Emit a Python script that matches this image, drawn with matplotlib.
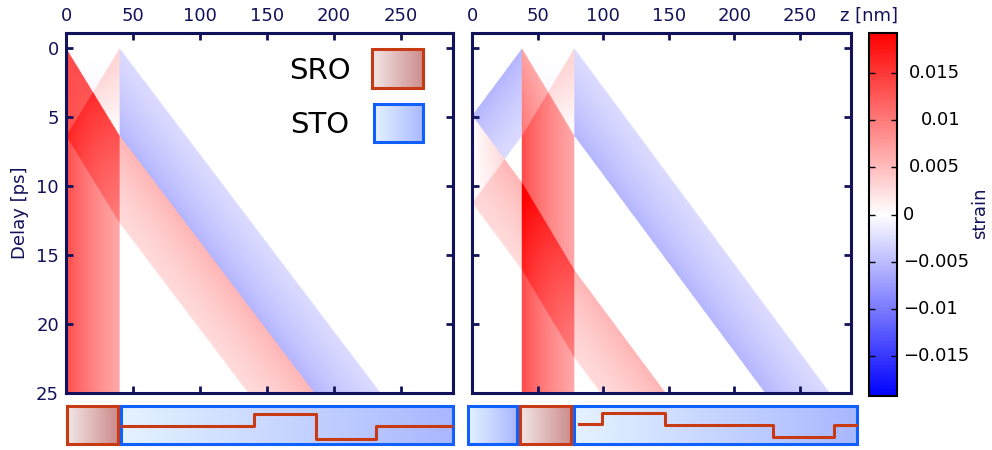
import numpy as np
import matplotlib
matplotlib.use("Agg")
import matplotlib.pyplot as plt
from matplotlib.colors import LinearSegmentedColormap
from matplotlib.patches import Rectangle

# materials: sound velocity [nm/ps], density [g/cm^3]
materials = ["SRO", "STO"]
sound_vel = [6.3, 7.8]
density = [6.5, 5.12]

# sample a: SRO film on STO substrate, sample b: STO / SRO / STO substrate
layers_a = ["SRO", "STO"]
thick_a = [40, 249]
layers_b = ["STO", "SRO", "STO"]
thick_b = [38, 40, 211]

# photo-induced expansion in SRO (surface value) and optical depth [nm]
strain0 = 0.0135
absorb_depth = 55.0

# schematic step line drawn in the substrate box below each map
step_z_a = [42, 140, 186, 231, 287]
step_lev_a = [0.468, 0.776, 0.126, 0.453]
step_z_b = [83, 100, 146, 226, 271, 288]
step_lev_b = [0.505, 0.81, 0.487, 0.171, 0.487]

cbar_ticks = [-0.015, -0.01, -0.005, 0, 0.005, 0.01, 0.015]
cbar_labels = ["\u22120.015", "\u22120.01", "\u22120.005", "0", "0.005", "0.01", "0.015"]
x_ticks = [0, 50, 100, 150, 200, 250]
y_ticks = [0, 5, 10, 15, 20, 25]

VLIM = 0.0193
T_MIN, T_MAX = -1.1, 25
NAVY = "#12125a"
SRO_EDGE = "#c83a14"
STO_EDGE = "#1060ff"
SRO_FILL = ("#f3e6e6", "#cc8c8c")
STO_FILL = ("#e4f2ff", "#a9b8ff")
CMAP = LinearSegmentedColormap.from_list("bwr_w", ["#0000ff", "#ffffff", "#ff0000"], N=257)

vel = dict(zip(materials, sound_vel))
rho = dict(zip(materials, density))


def strain_map(names, thick, nz=700, nt=650):
    thick = np.array(thick, float)
    v = np.array([vel[m] for m in names])
    c = np.array([rho[m] * vel[m] ** 2 for m in names])
    edges = np.concatenate([[0], np.cumsum(thick)])
    tau_edges = np.concatenate([[0], np.cumsum(thick / v)])

    def layer_of(zz):
        return np.clip(np.searchsorted(edges, zz, side="right") - 1, 0, len(thick) - 1)

    def eta_th(zz):
        i = layer_of(zz)
        out = np.zeros_like(zz)
        for k, name in enumerate(names):
            if name == "SRO":
                m = i == k
                out[m] = strain0 * np.exp(-(zz[m] - edges[k]) / absorb_depth)
        return out

    def sigma0(tau):
        zz = np.interp(np.abs(tau), tau_edges, edges)
        s = -c[layer_of(zz)] * eta_th(zz)
        s[np.abs(tau) > tau_edges[-1]] = 0
        return np.sign(tau) * s

    z = np.linspace(0, edges[-1], nz)
    t = np.linspace(T_MIN, T_MAX, nt)
    tau_z = np.interp(z, edges, tau_edges)
    TZ, T = np.meshgrid(tau_z, t)
    Z = np.broadcast_to(z, TZ.shape)
    sig = 0.5 * (sigma0((TZ - T).ravel()) + sigma0((TZ + T).ravel())).reshape(TZ.shape)
    eta = eta_th(Z.ravel()).reshape(TZ.shape) + sig / c[layer_of(Z)]
    eta[T < 0] = 0
    return eta, edges[-1]


def grad_box(ax, x0, x1, y0, y1, fill, edge, lw=2.2):
    cm = LinearSegmentedColormap.from_list("g", fill)
    ax.imshow(np.linspace(0, 1, 64)[None, :], cmap=cm, extent=(x0, x1, y0, y1),
              aspect="auto", zorder=3, interpolation="bilinear")
    ax.add_patch(Rectangle((x0, min(y0, y1)), x1 - x0, abs(y1 - y0), fill=False,
                           edgecolor=edge, lw=lw, zorder=4, clip_on=False))


def style_map(ax, ylabels):
    for s in ax.spines.values():
        s.set_color(NAVY)
        s.set_linewidth(2.2)
    ax.set_xticks(x_ticks)
    ax.set_yticks(y_ticks)
    ax.tick_params(direction="in", length=5, width=2, colors=NAVY, labelsize=13,
                   top=True, right=True, labeltop=True, labelbottom=False,
                   labelleft=ylabels)
    ax.tick_params(axis="x", pad=6)
    ax.tick_params(axis="y", pad=5)


def strip(rect, names, thick, zmax, step_z, step_lev):
    sa = fig.add_axes(rect)
    inset = 1.1
    x0 = 0
    for name, d in zip(names, thick):
        fill, edge = (SRO_FILL, SRO_EDGE) if name == "SRO" else (STO_FILL, STO_EDGE)
        grad_box(sa, x0 + inset, x0 + d - inset, 0, 1, fill, edge)
        x0 += d
    sa.step(step_z, step_lev + [step_lev[-1]], where="post", color=SRO_EDGE, lw=2.2, zorder=5)
    sa.set_xlim(0, zmax)
    sa.set_ylim(0, 1)
    sa.axis("off")


fig = plt.figure(figsize=(9.92, 4.5), dpi=100)
W, H = 992, 450


def px(x0, y0, x1, y1):
    return [x0 / W, 1 - y1 / H, (x1 - x0) / W, (y1 - y0) / H]


ax1 = fig.add_axes(px(66, 33, 453, 393))
ax2 = fig.add_axes(px(472, 33, 851, 393))
cax = fig.add_axes(px(869, 33, 897, 396))

eta_a, zmax_a = strain_map(layers_a, thick_a)
eta_b, zmax_b = strain_map(layers_b, thick_b)

im = ax1.imshow(eta_a, cmap=CMAP, vmin=-VLIM, vmax=VLIM, aspect="auto",
                extent=(0, zmax_a, T_MAX, T_MIN), origin="upper", zorder=1)
ax2.imshow(eta_b, cmap=CMAP, vmin=-VLIM, vmax=VLIM, aspect="auto",
           extent=(0, zmax_b, T_MAX, T_MIN), origin="upper", zorder=1)

for ax, zm, lab in [(ax1, zmax_a, True), (ax2, zmax_b, False)]:
    ax.set_xlim(0, zm)
    ax.set_ylim(T_MAX, T_MIN)
    style_map(ax, lab)

ax1.set_ylabel("Delay [ps]", color=NAVY, fontsize=13)
ax1.yaxis.set_label_coords(-0.096, 0.5)

# legend
grad_box(ax1, 228.7, 266.8, 2.86, 0.04, SRO_FILL, SRO_EDGE)
grad_box(ax1, 229.8, 266.8, 6.77, 4.02, STO_FILL, STO_EDGE)
ax1.text(189.6, 2.25, "SRO", fontsize=21, ha="center", va="baseline", color="black", zorder=5)
ax1.text(189.6, 6.16, "STO", fontsize=21, ha="center", va="baseline", color="black", zorder=5)
ax1.set_xlim(0, zmax_a)
ax1.set_ylim(T_MAX, T_MIN)

# colorbar
cb = fig.colorbar(im, cax=cax)
cb.outline.set_linewidth(1.5)
cb.outline.set_edgecolor("black")
cax.set_yticks(cbar_ticks)
cax.set_yticklabels([])
cax.tick_params(direction="in", left=True, right=True, length=4, width=1, color="black")
tr = cax.get_yaxis_transform()
for val, lab in zip(cbar_ticks, cbar_labels):
    if val > 0:
        cax.text(3.25, val, lab, transform=tr, ha="right", va="center", fontsize=13)
    else:
        cax.text(1.21, val, lab, transform=tr, ha="left", va="center", fontsize=13)

fig.text(980 / W, 1 - 213 / H, "strain", rotation=90, ha="center", va="center",
         color=NAVY, fontsize=13)
fig.text(869 / W, 1 - 16 / H, "z [nm]", ha="center", va="center", color=NAVY, fontsize=13)

# sample sketches under the maps
strip(px(66, 405.5, 454, 443.5), layers_a, thick_a, zmax_a, step_z_a, step_lev_a)
strip(px(467, 405.5, 858, 443.5), layers_b, thick_b, zmax_b, step_z_b, step_lev_b)

fig.savefig("out.png", dpi=100)
